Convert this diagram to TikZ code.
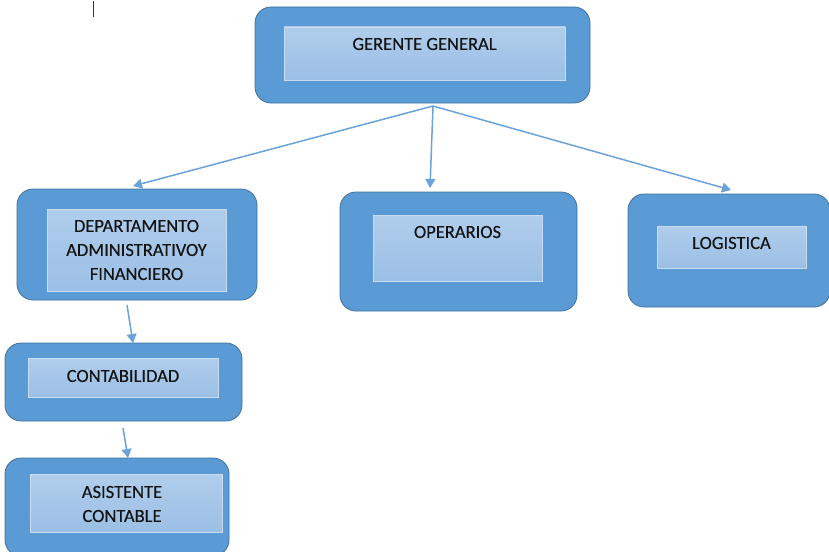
\documentclass[tikz,border=0pt]{standalone}
\usepackage{fontspec}
\setmainfont{Carlito}
\newfontfamily\lblfont[FakeBold=0.35]{Carlito}
\usetikzlibrary{arrows.meta,calc}
\definecolor{outerblue}{HTML}{5B9BD5}
\definecolor{outerline}{HTML}{41719C}
\definecolor{innertop}{HTML}{B0CDEC}
\definecolor{innerbot}{HTML}{9BBFE5}
\definecolor{innerline}{HTML}{C9DCF0}
\definecolor{arrblue}{HTML}{6BA3D9}
\definecolor{txt}{HTML}{141414}
\begin{document}
\begin{tikzpicture}[x=1pt,y=-1pt,
  outerbox/.style={draw=outerline, line width=0.8pt, fill=outerblue, rounded corners=16pt, inner sep=0pt},
  innerbox/.style={draw=innerline, line width=0.6pt, top color=innertop, bottom color=innerbot, inner sep=0pt},
  lbl/.style={font=\lblfont\fontsize{18.5}{24}\selectfont, text=txt, align=center, inner sep=0pt},
  arr/.style={draw=arrblue, line width=1.5pt, -{Triangle[width=10pt,length=9pt]}}]
\useasboundingbox (0,0) rectangle (829,551);
% cursor mark
\coordinate (c1) at (93,1);
\coordinate (c2) at (93,17);
\draw[line width=1pt, black!80] (c1) -- (c2);

% outer boxes
\node[outerbox, minimum width=335pt, minimum height=96pt] (g) at (422.5,55) {};
\node[outerbox, minimum width=240pt, minimum height=111pt] (d) at (137,244.5) {};
\node[outerbox, minimum width=237pt, minimum height=119pt] (o) at (458.5,251.5) {};
\node[outerbox, minimum width=202pt, minimum height=113pt] (l) at (729,250.5) {};
\node[outerbox, minimum width=237pt, minimum height=78pt] (c) at (123.5,382) {};
\node[outerbox, minimum width=224pt, minimum height=98pt] (a) at (117,507) {};

% inner boxes
\node[innerbox, minimum width=281pt, minimum height=53pt] (gi) at (424.5,53.5) {};
\node[innerbox, minimum width=179pt, minimum height=82pt] (di) at (136.5,250) {};
\node[innerbox, minimum width=169pt, minimum height=66pt] (oi) at (457.5,248) {};
\node[innerbox, minimum width=149pt, minimum height=42pt] (li) at (731.5,247) {};
\node[innerbox, minimum width=190pt, minimum height=39pt] (ci) at (123,377.5) {};
\node[innerbox, minimum width=192pt, minimum height=58pt] (ai) at (126,503) {};

% labels
\node[lbl] (gt) at (424.5,44) {GERENTE GENERAL};
\node[lbl] (dt) at (136.5,250) {DEPARTAMENTO\\ADMINISTRATIVOY\\FINANCIERO};
\node[lbl] (ot) at (457.5,232) {OPERARIOS};
\node[lbl] (lt) at (731.5,243) {LOGISTICA};
\node[lbl] (ct) at (123,376) {CONTABILIDAD};
\node[lbl] (at) at (122,504) {ASISTENTE\\CONTABLE};

% connectors
\coordinate (gs) at (433,106);
\coordinate (dtop) at (133,186);
\coordinate (otop) at (430,188);
\coordinate (ltop) at (731,190);
\draw[arr] (gs) -- (dtop);
\draw[arr] (gs) -- (otop);
\draw[arr] (gs) -- (ltop);
\coordinate (dbot) at (127,305);
\coordinate (ctop) at (133,343);
\draw[arr] (dbot) -- (ctop);
\coordinate (cbot) at (123,428);
\coordinate (atop) at (128,458);
\draw[arr] (cbot) -- (atop);
\end{tikzpicture}
\end{document}
